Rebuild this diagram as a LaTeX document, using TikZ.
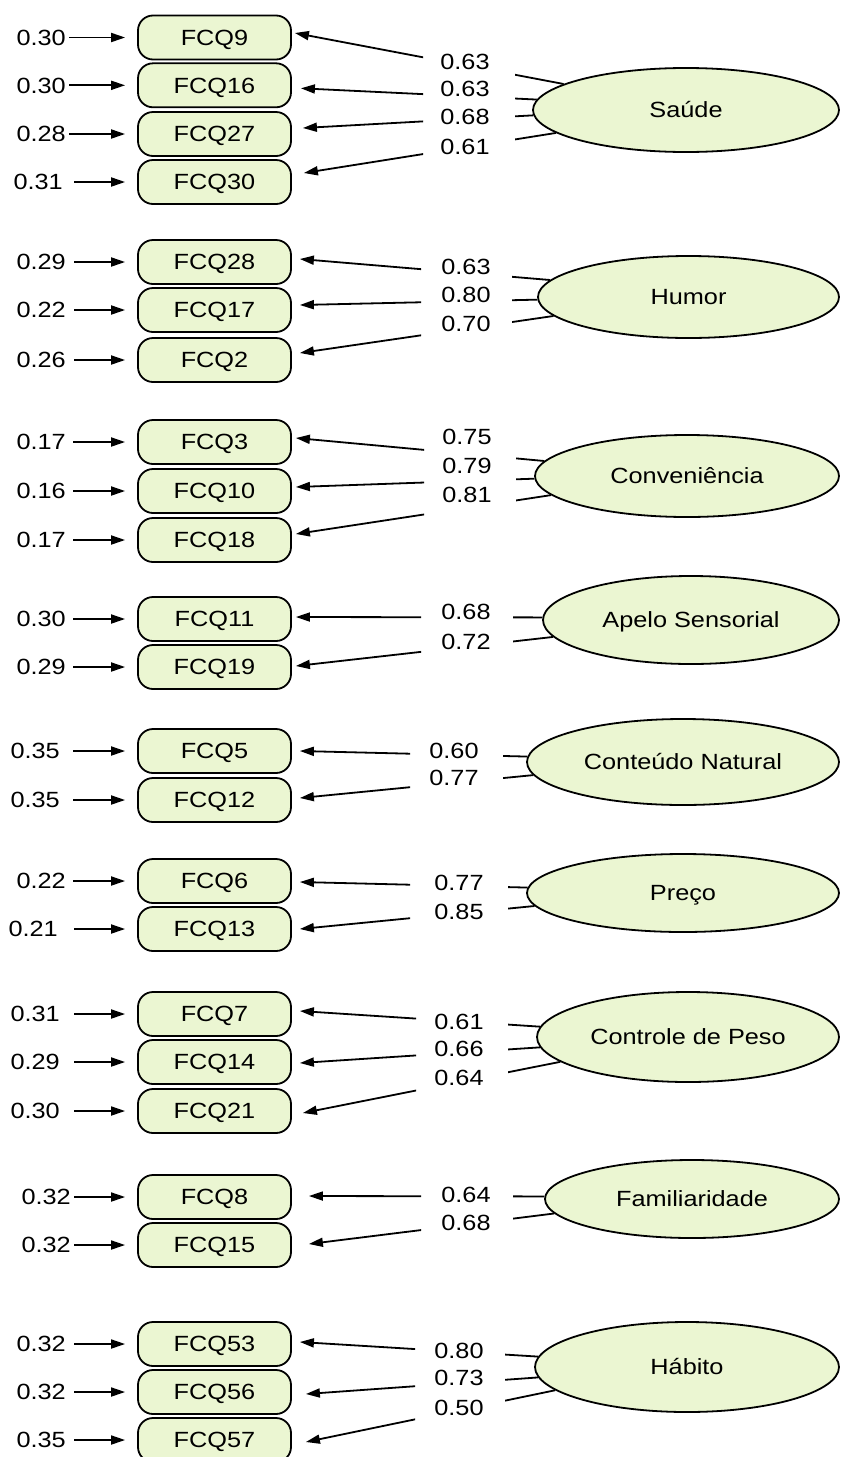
\documentclass[tikz,border=0pt]{standalone}
\usepackage{fontspec}
\setmainfont{Liberation Sans}[FakeStretch=1.15]
\usetikzlibrary{arrows.meta,shapes.geometric}
\definecolor{boxfill}{RGB}{235,246,210}
\newcommand{\ErrIn}[5]{\node[errlab, anchor=east] (e#1) at (#4,#2) {#3};
  \draw[errarr, shorten <=#5pt] (e#1.east) -- (#1.west);}
\newcommand{\Obs}[3]{\node[obsbox] (#1) at (214.5,#2) {#3};}
\newcommand{\LoadArr}[4]{\draw[load] (#1.#2) -- ([shift={(#4)}]#3.east);}
\begin{document}
\begin{tikzpicture}[x=1pt,y=-1pt,
  every node/.style={font=\fontsize{22}{26}\selectfont},
  obsbox/.style={draw, line width=1.8pt, fill=boxfill, rounded corners=15pt,
    minimum width=153pt, minimum height=44pt, inner sep=0pt,
    text height=15.75pt, text depth=0pt},
  lat/.style={draw, line width=1.8pt, fill=boxfill, ellipse, inner sep=0pt,
    text height=15.75pt, text depth=0pt},
  errlab/.style={inner sep=0pt, text height=15.75pt, text depth=0pt},
  loadlab/.style={inner sep=0pt, text height=15.75pt, text depth=0pt},
  errarr/.style={line width=1.8pt, -{Triangle[length=14pt,width=9pt]}, shorten >=12pt},
  load/.style={line width=1.8pt, -{Triangle[length=14pt,width=9pt]}},
]
\useasboundingbox (0,0) rectangle (843,1457);

% ---------- Group 1: Saude
\node[lat, minimum width=306pt, minimum height=84pt] (sau) at (686,110) {Saúde};
\Obs{q9}{37.5}{FCQ9}
\Obs{q16}{85.3}{FCQ16}
\Obs{q27}{134}{FCQ27}
\Obs{q30}{182}{FCQ30}
\ErrIn{q9}{37.5}{0.30}{66}{3}
\ErrIn{q16}{85.3}{0.30}{66}{3}
\ErrIn{q27}{134}{0.28}{66}{3}
\ErrIn{q30}{182}{0.31}{63}{11}
\begin{scope}
\clip (0,0) rectangle (423,1457) (515,0) rectangle (843,1457);
\LoadArr{sau}{168}{q9}{3,-4.5}
\LoadArr{sau}{176.5}{q16}{9,3}
\LoadArr{sau}{182.7}{q27}{11,-6}
\LoadArr{sau}{190.3}{q30}{12,-9}
\end{scope}
\node[loadlab] (l9) at (465,62) {0.63};
\node[loadlab] (l16) at (465,89) {0.63};
\node[loadlab] (l27) at (465,117) {0.68};
\node[loadlab] (l30) at (465,147) {0.61};

% ---------- Group 2: Humor
\node[lat, minimum width=301pt, minimum height=82pt] (hum) at (688.5,297) {Humor};
\Obs{q28}{262}{FCQ28}
\Obs{q17}{310}{FCQ17}
\Obs{q2}{360}{FCQ2}
\ErrIn{q28}{262}{0.29}{66}{8}
\ErrIn{q17}{310}{0.22}{66}{8}
\ErrIn{q2}{360}{0.26}{66}{8}
\begin{scope}
\clip (0,0) rectangle (421,1457) (512,0) rectangle (843,1457);
\LoadArr{hum}{173.9}{q28}{8,-3}
\LoadArr{hum}{181}{q17}{8,-5}
\LoadArr{hum}{188.2}{q2}{8,-7}
\end{scope}
\node[loadlab] (l28) at (466,267) {0.63};
\node[loadlab] (l17) at (466,295) {0.80};
\node[loadlab] (l2) at (466,324) {0.70};

% ---------- Group 3: Conveniencia
\node[lat, minimum width=304pt, minimum height=82pt] (conv) at (687,476) {Conveniência};
\Obs{q3}{442}{FCQ3}
\Obs{q10}{491}{FCQ10}
\Obs{q18}{540}{FCQ18}
\ErrIn{q3}{442}{0.17}{66}{7}
\ErrIn{q10}{491}{0.16}{66}{7}
\ErrIn{q18}{540}{0.17}{66}{7}
\begin{scope}
\clip (0,0) rectangle (424,1457) (516,0) rectangle (843,1457);
\LoadArr{conv}{174.6}{q3}{4,-4}
\LoadArr{conv}{181}{q10}{4,-4}
\LoadArr{conv}{188.4}{q18}{4,-6}
\end{scope}
\node[loadlab] (l3) at (467,437) {0.75};
\node[loadlab] (l10) at (467,466) {0.79};
\node[loadlab] (l18) at (467,495) {0.81};

% ---------- Group 4: Apelo Sensorial
\node[lat, minimum width=296pt, minimum height=88pt] (apelo) at (691,620) {Apelo Sensorial};
\Obs{q11}{619}{FCQ11}
\Obs{q19}{667}{FCQ19}
\ErrIn{q11}{619}{0.30}{66}{7}
\ErrIn{q19}{667}{0.29}{66}{7}
\begin{scope}
\clip (0,0) rectangle (421,1457) (513,0) rectangle (843,1457);
\LoadArr{apelo}{179.2}{q11}{4,-2}
\LoadArr{apelo}{187}{q19}{4,-1}
\end{scope}
\node[loadlab] (l11) at (466,612) {0.68};
\node[loadlab] (l19) at (466,642) {0.72};

% ---------- Group 5: Conteudo Natural
\node[lat, minimum width=312pt, minimum height=86pt] (cont) at (683,762) {Conteúdo Natural};
\Obs{q5}{751}{FCQ5}
\Obs{q12}{800}{FCQ12}
\ErrIn{q5}{751}{0.35}{60}{13}
\ErrIn{q12}{800}{0.35}{60}{13}
\begin{scope}
\clip (0,0) rectangle (410,1457) (503,0) rectangle (843,1457);
\LoadArr{cont}{178.2}{q5}{8,0}
\LoadArr{cont}{185.3}{q12}{8,-2}
\end{scope}
\node[loadlab] (l5) at (454,751) {0.60};
\node[loadlab] (l12) at (454,778) {0.77};

% ---------- Group 6: Preco
\node[lat, minimum width=312pt, minimum height=78pt] (preco) at (683,893) {Preço};
\Obs{q6}{881}{FCQ6}
\Obs{q13}{929}{FCQ13}
\ErrIn{q6}{881}{0.22}{66}{7}
\ErrIn{q13}{929}{0.21}{58}{16}
\begin{scope}
\clip (0,0) rectangle (410,1457) (508,0) rectangle (843,1457);
\LoadArr{preco}{178.5}{q6}{8,1}
\LoadArr{preco}{185.4}{q13}{8,0}
\end{scope}
\node[loadlab] (l6) at (459,883) {0.77};
\node[loadlab] (l13) at (459,912) {0.85};

% ---------- Group 7: Controle de Peso
\node[lat, minimum width=302pt, minimum height=90pt] (peso) at (688,1037) {Controle de Peso};
\Obs{q7}{1014}{FCQ7}
\Obs{q14}{1062}{FCQ14}
\Obs{q21}{1111}{FCQ21}
\ErrIn{q7}{1014}{0.31}{60}{14}
\ErrIn{q14}{1062}{0.29}{60}{14}
\ErrIn{q21}{1111}{0.30}{60}{14}
\begin{scope}
\clip (0,0) rectangle (416,1457) (508,0) rectangle (843,1457);
\LoadArr{peso}{176.2}{q7}{8,-3}
\LoadArr{peso}{184.1}{q14}{8,1}
\LoadArr{peso}{191.1}{q21}{11,2}
\end{scope}
\node[loadlab] (l7) at (459,1022) {0.61};
\node[loadlab] (l14) at (459,1049) {0.66};
\node[loadlab] (l21) at (459,1078) {0.64};

% ---------- Group 8: Familiaridade
\node[lat, minimum width=294pt, minimum height=78pt] (fam) at (692,1199) {Familiaridade};
\Obs{q8}{1197}{FCQ8}
\Obs{q15}{1245}{FCQ15}
\ErrIn{q8}{1197}{0.32}{71}{3}
\ErrIn{q15}{1245}{0.32}{71}{3}
\begin{scope}
\clip (0,0) rectangle (421,1457) (513,0) rectangle (843,1457);
\LoadArr{fam}{179.2}{q8}{17,-1}
\LoadArr{fam}{186.9}{q15}{17,-1}
\end{scope}
\node[loadlab] (l8) at (466,1195) {0.64};
\node[loadlab] (l15) at (466,1223) {0.68};

% ---------- Group 9: Habito
\node[lat, minimum width=304pt, minimum height=90pt] (hab) at (687,1367) {Hábito};
\Obs{q53}{1344}{FCQ53}
\Obs{q56}{1392}{FCQ56}
\Obs{q57}{1440}{FCQ57}
\ErrIn{q53}{1344}{0.32}{66}{8}
\ErrIn{q56}{1392}{0.32}{66}{8}
\ErrIn{q57}{1440}{0.35}{66}{8}
\begin{scope}
\clip (0,0) rectangle (415,1457) (505,0) rectangle (843,1457);
\LoadArr{hab}{176.2}{q53}{8,-2}
\LoadArr{hab}{184.2}{q56}{14,2}
\LoadArr{hab}{190.8}{q57}{14,2}
\end{scope}
\node[loadlab] (l53) at (459,1351) {0.80};
\node[loadlab] (l56) at (459,1378) {0.73};
\node[loadlab] (l57) at (459,1408) {0.50};
\end{tikzpicture}
\end{document}
